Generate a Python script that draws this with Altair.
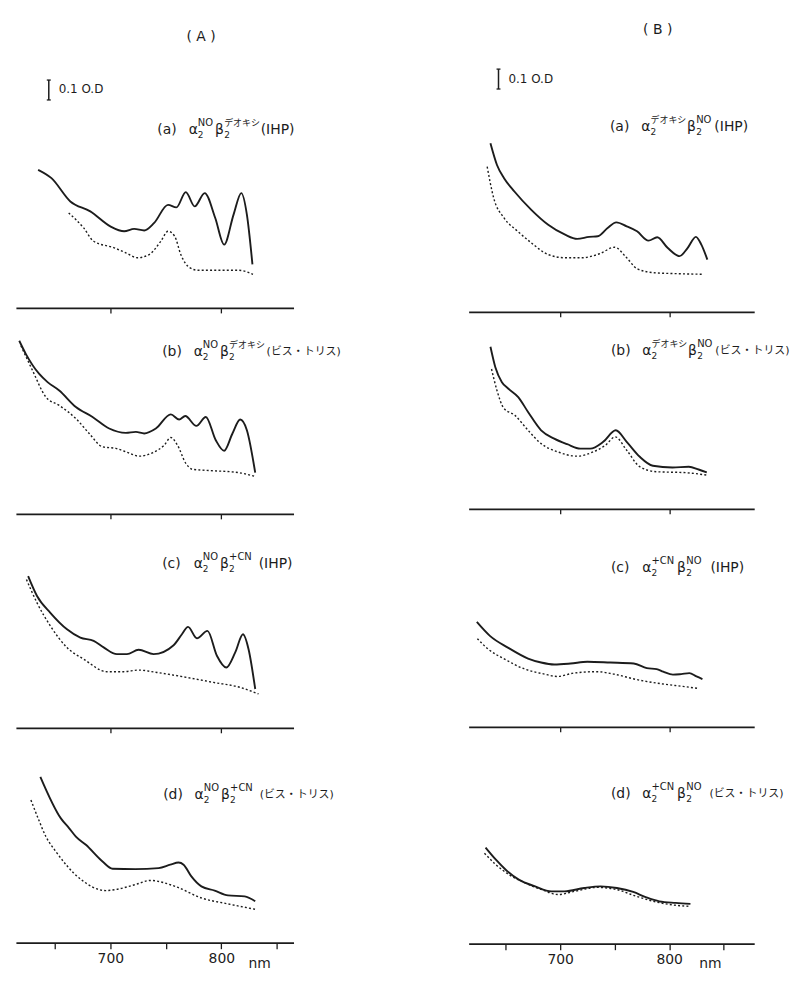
import altair as alt
import pandas as pd

# ---------------- data (wavelength nm, absorbance O.D. above each baseline) ----------------
# Column (A)
A_a_solid_nm = [635, 647, 664, 682, 700, 712.5, 721.5, 730.5, 739.5, 752, 759.5, 768, 776, 785, 794.5, 802.5, 811, 818, 823, 828]
A_a_solid_od = [0.694, 0.652, 0.535, 0.485, 0.41, 0.385, 0.397, 0.389, 0.427, 0.518, 0.505, 0.582, 0.51, 0.577, 0.452, 0.318, 0.469, 0.577, 0.469, 0.219]
A_a_dot_nm = [662.5, 676, 685, 703.5, 714, 724.5, 735, 745.5, 752, 758, 763.5, 771.5, 779, 794.5, 815.5, 828.5]
A_a_dot_od = [0.477, 0.402, 0.335, 0.302, 0.277, 0.252, 0.268, 0.335, 0.385, 0.36, 0.268, 0.202, 0.189, 0.189, 0.189, 0.169]

A_b_solid_nm = [618, 624, 636, 643.5, 654, 669, 684, 699, 714, 723, 730.5, 741, 754.5, 762, 767.5, 777.5, 786, 795, 802.5, 810, 817, 823, 830.5]
A_b_solid_od = [0.87, 0.803, 0.703, 0.662, 0.62, 0.537, 0.487, 0.429, 0.407, 0.412, 0.404, 0.429, 0.5, 0.474, 0.492, 0.442, 0.487, 0.37, 0.317, 0.404, 0.474, 0.42, 0.207]
A_b_dot_nm = [619.5, 630, 642, 654, 669, 681, 693, 705, 714, 726, 738, 748.5, 754.5, 760.5, 768, 774, 792, 816, 831]
A_b_dot_od = [0.845, 0.72, 0.587, 0.545, 0.479, 0.404, 0.337, 0.329, 0.312, 0.29, 0.307, 0.345, 0.384, 0.345, 0.254, 0.224, 0.217, 0.207, 0.187]

A_c_solid_nm = [626, 634, 646, 661, 673, 685, 694, 706, 715, 725.5, 739, 757, 764.5, 770, 778, 787.5, 796, 804.5, 812.5, 819.5, 824.5, 830.5]
A_c_solid_od = [0.762, 0.662, 0.578, 0.495, 0.453, 0.437, 0.404, 0.37, 0.37, 0.392, 0.37, 0.415, 0.47, 0.507, 0.45, 0.487, 0.362, 0.303, 0.379, 0.47, 0.395, 0.195]
A_c_dot_nm = [624.5, 634, 646, 661, 676, 697, 712, 725.5, 742, 769, 793, 817, 833.5]
A_c_dot_od = [0.745, 0.628, 0.512, 0.403, 0.345, 0.282, 0.282, 0.29, 0.278, 0.253, 0.228, 0.203, 0.17]

A_d_solid_nm = [637, 655.5, 663, 669, 678, 693, 702, 722.5, 743.5, 754, 761.5, 766, 773, 782, 794, 806, 821, 830.5]
A_d_solid_od = [0.834, 0.625, 0.575, 0.533, 0.492, 0.408, 0.372, 0.37, 0.375, 0.392, 0.403, 0.392, 0.333, 0.283, 0.262, 0.238, 0.233, 0.208]
A_d_dot_nm = [628.5, 635, 642, 651, 672, 696, 704.5, 722.5, 736, 758.5, 782, 806, 831.5]
A_d_dot_od = [0.717, 0.625, 0.533, 0.458, 0.325, 0.262, 0.267, 0.292, 0.313, 0.283, 0.225, 0.195, 0.167]

# Column (B)
B_a_solid_nm = [636, 642, 648.5, 658, 673.5, 689, 704.5, 715.5, 726.5, 734.5, 743.5, 751.5, 761, 770.5, 781, 789, 798.5, 809.5, 817, 824.5, 829.5, 835]
B_a_solid_od = [0.847, 0.738, 0.672, 0.605, 0.513, 0.438, 0.388, 0.367, 0.377, 0.38, 0.422, 0.45, 0.43, 0.405, 0.358, 0.375, 0.322, 0.28, 0.322, 0.377, 0.338, 0.263]
B_a_dot_nm = [633, 639, 648.5, 661, 673.5, 689, 704.5, 720, 736, 750, 761, 770.5, 786, 808, 831]
B_a_dot_od = [0.73, 0.572, 0.472, 0.405, 0.347, 0.288, 0.272, 0.272, 0.292, 0.325, 0.272, 0.217, 0.197, 0.192, 0.189]

B_b_solid_nm = [636, 640.5, 646.5, 652.5, 661.5, 670.5, 682.5, 694.5, 706.5, 718.5, 727.5, 739.5, 751, 761, 773, 785, 803, 818, 827, 834.5]
B_b_solid_od = [0.815, 0.712, 0.637, 0.604, 0.562, 0.487, 0.395, 0.353, 0.325, 0.303, 0.303, 0.337, 0.395, 0.337, 0.262, 0.217, 0.208, 0.212, 0.198, 0.183]
B_b_dot_nm = [637, 642, 648, 658.5, 670.5, 682.5, 697.5, 715.5, 730.5, 741.5, 750.5, 761, 773, 788, 815, 834.5]
B_b_dot_od = [0.703, 0.595, 0.508, 0.47, 0.395, 0.328, 0.287, 0.265, 0.287, 0.32, 0.362, 0.295, 0.212, 0.187, 0.182, 0.17]

B_c_solid_nm = [623.5, 635.5, 652, 670.5, 682.5, 694.5, 709.5, 725, 746, 767.5, 779.5, 788.5, 794.5, 803.5, 811, 818.5, 825, 830.5]
B_c_solid_od = [0.527, 0.457, 0.398, 0.343, 0.323, 0.313, 0.318, 0.327, 0.323, 0.318, 0.295, 0.29, 0.277, 0.262, 0.265, 0.27, 0.253, 0.24]
B_c_dot_nm = [624, 634, 649, 667.5, 685.5, 697.5, 712.5, 734, 749, 770.5, 794.5, 812.5, 826.5]
B_c_dot_od = [0.443, 0.39, 0.34, 0.29, 0.265, 0.253, 0.27, 0.277, 0.265, 0.237, 0.215, 0.203, 0.193]

B_d_solid_nm = [631.5, 641, 650, 662, 677, 692, 704, 722, 737, 752, 767, 779, 791, 806, 819.5]
B_d_solid_od = [0.483, 0.422, 0.372, 0.322, 0.288, 0.263, 0.263, 0.28, 0.288, 0.28, 0.26, 0.233, 0.213, 0.205, 0.2]
B_d_dot_nm = [630.5, 641, 653, 668, 683, 698, 713, 734, 752, 770, 788, 806, 819.5]
B_d_dot_od = [0.455, 0.397, 0.347, 0.305, 0.272, 0.247, 0.263, 0.283, 0.272, 0.238, 0.21, 0.193, 0.188]

# axis ticks / labels
UPPER_TICKS = [700, 800]
BOTTOM_TICKS = [650, 700, 750, 800, 850]
LABELED_TICKS = [700, 800]
AXIS_UNIT = "nm"
COLUMN_TITLES = {"A": "( A )", "B": "( B )"}
SCALE_TEXT = "0.1 O.D"
SCALEBAR_NM = {"A": 644.6, "B": 643.4}
SCALEBAR_OD = {"A": (1.045, 1.145), "B": (1.12, 1.22)}

# panel labels: tokens ('b', text) base, ('g', px) gap, ('ss', sub, sup)
LABELS = {
    "A": [
        [("b", "(a)"), ("g", 12), ("b", "α"), ("ss", "2", "NO"), ("g", 2), ("b", "β"), ("ss", "2", "デオキシ"), ("g", 2), ("b", "(IHP)")],
        [("b", "(b)"), ("g", 12), ("b", "α"), ("ss", "2", "NO"), ("g", 2), ("b", "β"), ("ss", "2", "デオキシ"), ("g", 3), ("b", "(ビス・トリス)")],
        [("b", "(c)"), ("g", 12), ("b", "α"), ("ss", "2", "NO"), ("g", 2), ("b", "β"), ("ss", "2", "+CN"), ("g", 6), ("b", "(IHP)")],
        [("b", "(d)"), ("g", 12), ("b", "α"), ("ss", "2", "NO"), ("g", 2), ("b", "β"), ("ss", "2", "+CN"), ("g", 6), ("b", "(ビス・トリス)")],
    ],
    "B": [
        [("b", "(a)"), ("g", 12), ("b", "α"), ("ss", "2", "デオキシ"), ("g", 2), ("b", "β"), ("ss", "2", "NO"), ("g", 3), ("b", "(IHP)")],
        [("b", "(b)"), ("g", 12), ("b", "α"), ("ss", "2", "デオキシ"), ("g", 2), ("b", "β"), ("ss", "2", "NO"), ("g", 3), ("b", "(ビス・トリス)")],
        [("b", "(c)"), ("g", 12), ("b", "α"), ("ss", "2", "+CN"), ("g", 2), ("b", "β"), ("ss", "2", "NO"), ("g", 9), ("b", "(IHP)")],
        [("b", "(d)"), ("g", 12), ("b", "α"), ("ss", "2", "+CN"), ("g", 2), ("b", "β"), ("ss", "2", "NO"), ("g", 8), ("b", "(ビス・トリス)")],
    ],
}

# ---------------- layout / style ----------------
INK = "#1c1c1c"
FONT = "DejaVu Sans, Noto Sans CJK JP"
PX_PER_OD = 200
XDOM = {"A": [615, 865], "B": [616, 878]}
WIDTH = {"A": 279, "B": 287}
HEIGHTS = {"A": [297, 183, 195, 196], "B": [301, 178, 194, 197]}
VSPACE = 20
HSPACE = 176
PAD = {"left": 15, "top": 10, "right": 5, "bottom": 5}
X0 = {"A": PAD["left"], "B": PAD["left"] + WIDTH["A"] + HSPACE}

ROW_TOPS = []
_y = PAD["top"]
for _i in range(4):
    ROW_TOPS.append(_y)
    _y += max(HEIGHTS["A"][_i], HEIGHTS["B"][_i]) + VSPACE

# absolute page positions of annotations
LABEL_POS = {"A": [(157, 128), (162, 351), (162, 564), (163, 797)],
             "B": [(612, 125), (613, 350), (613, 568), (613, 796)]}
TITLE_POS = {"A": (201, 35), "B": (660, 28)}
SCALE_TEXT_POS = {"A": (58, 87), "B": (510, 77)}
UNIT_POS = {"A": (260, 966), "B": (713, 966)}


def has_cjk(s):
    return any(ord(ch) > 0x2E80 for ch in s)


def tw(s, size):
    w = 0.0
    for ch in s:
        if ord(ch) > 0x2E80:
            w += 0.95
        elif ch in "()":
            w += 0.39
        elif ch in " .":
            w += 0.32
        elif ch in "I":
            w += 0.30
        elif ch.isupper():
            w += 0.74
        elif ch.isdigit():
            w += 0.64
        elif ch == "+":
            w += 0.84
        else:
            w += 0.62
    return w * size


def text_layer(t, x, y, size, align="left"):
    return alt.Chart(pd.DataFrame({"t": [t]})).mark_text(
        align=align, baseline="middle", font=FONT, fontSize=size, color=INK
    ).encode(x=alt.value(x), y=alt.value(y), text="t:N")


def label_layers(spec, x0, yc):
    layers, x = [], x0
    for tok in spec:
        if tok[0] == "g":
            x += tok[1]
        elif tok[0] == "b":
            s = tok[1]
            size = 11 if has_cjk(s) else 14
            layers.append(text_layer(s, x, yc, size))
            x += tw(s, size)
        else:
            sub, sup = tok[1], tok[2]
            subsize = 9
            supsize = 9 if has_cjk(sup) else 10
            layers.append(text_layer(sub, x + 0.5, yc + 5, subsize))
            layers.append(text_layer(sup, x + 0.5, yc - 7, supsize))
            x += max(tw(sub, subsize), tw(sup, supsize)) + 1
    return layers


CURVES = {
    "A": [(A_a_solid_nm, A_a_solid_od, A_a_dot_nm, A_a_dot_od),
          (A_b_solid_nm, A_b_solid_od, A_b_dot_nm, A_b_dot_od),
          (A_c_solid_nm, A_c_solid_od, A_c_dot_nm, A_c_dot_od),
          (A_d_solid_nm, A_d_solid_od, A_d_dot_nm, A_d_dot_od)],
    "B": [(B_a_solid_nm, B_a_solid_od, B_a_dot_nm, B_a_dot_od),
          (B_b_solid_nm, B_b_solid_od, B_b_dot_nm, B_b_dot_od),
          (B_c_solid_nm, B_c_solid_od, B_c_dot_nm, B_c_dot_od),
          (B_d_solid_nm, B_d_solid_od, B_d_dot_nm, B_d_dot_od)],
}


def panel(col, i):
    h = HEIGHTS[col][i]
    ox, oy = X0[col], ROW_TOPS[i]
    bottom = i == 3
    xs = alt.Scale(domain=XDOM[col], nice=False, zero=False)
    ys = alt.Scale(domain=[0, h / PX_PER_OD], nice=False, zero=False)
    common = dict(domainColor=INK, domainWidth=1.7, tickColor=INK, tickWidth=1.3,
                  grid=False, title=None)
    if bottom:
        cond = " || ".join(f"datum.value == {v}" for v in LABELED_TICKS)
        axis = alt.Axis(values=BOTTOM_TICKS, tickSize=6, labelExpr=f"({cond}) ? datum.label : ''",
                        labelFont=FONT, labelFontSize=14, labelColor=INK, labelPadding=3,
                        labelOverlap=False, labelFlush=False, **common)
    else:
        axis = alt.Axis(values=UPPER_TICKS, tickSize=5, labels=False, **common)
    s_nm, s_od, d_nm, d_od = CURVES[col][i]
    df_s = pd.DataFrame({"nm": s_nm, "od": s_od})
    df_d = pd.DataFrame({"nm": d_nm, "od": d_od})
    enc = dict(x=alt.X("nm:Q", scale=xs, axis=axis), y=alt.Y("od:Q", scale=ys, axis=None))
    solid = alt.Chart(df_s).mark_line(color=INK, strokeWidth=1.9, interpolate="monotone").encode(**enc)
    dotted = alt.Chart(df_d).mark_line(color=INK, strokeWidth=1.4, strokeDash=[2, 2.2],
                                       interpolate="monotone").encode(**enc)
    layers = [solid, dotted]
    lx, ly = LABEL_POS[col][i]
    layers += label_layers(LABELS[col][i], lx - ox, ly - oy)
    if i == 0:
        tx, ty = TITLE_POS[col]
        layers.append(text_layer(COLUMN_TITLES[col], tx - ox, ty - oy, 14, align="center"))
        sb = pd.DataFrame({"nm": [SCALEBAR_NM[col]], "od": [SCALEBAR_OD[col][0]],
                           "od2": [SCALEBAR_OD[col][1]]})
        layers.append(alt.Chart(sb).mark_rule(color=INK, strokeWidth=1.5).encode(
            x=alt.X("nm:Q", scale=xs), y=alt.Y("od:Q", scale=ys), y2="od2:Q"))
        caps = pd.DataFrame({"a": [SCALEBAR_NM[col] - 1.8] * 2, "b": [SCALEBAR_NM[col] + 1.8] * 2,
                             "od": list(SCALEBAR_OD[col])})
        layers.append(alt.Chart(caps).mark_rule(color=INK, strokeWidth=1.3).encode(
            x=alt.X("a:Q", scale=xs), x2="b:Q", y=alt.Y("od:Q", scale=ys)))
        sx, sy = SCALE_TEXT_POS[col]
        layers.append(text_layer(SCALE_TEXT, sx - ox, sy - oy, 12))
    if bottom:
        ux, uy = UNIT_POS[col]
        layers.append(text_layer(AXIS_UNIT, ux - ox, uy - oy, 14, align="center"))
    return alt.layer(*layers).properties(width=WIDTH[col], height=h)


cells = []
for i in range(4):
    for c in "AB":
        cells.append(panel(c, i))

chart = alt.concat(*cells, columns=2, spacing={"row": VSPACE, "column": HSPACE},
                   bounds="flush").properties(
    padding=PAD, background="white"
).configure_view(stroke=None)

chart.save("out.html", embed_options={"renderer": "svg", "actions": False})
